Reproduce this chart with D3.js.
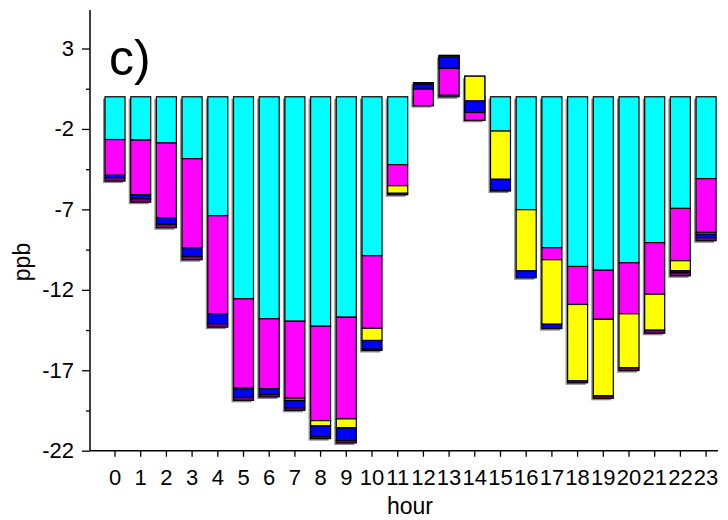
<!DOCTYPE html>
<html>
<head>
<meta charset="utf-8">
<script src="https://cdn.jsdelivr.net/npm/d3@7"></script>
<style>
  html, body { margin: 0; padding: 0; background: #fff; }
  svg { display: block; font-family: "Liberation Sans", Arial, sans-serif; }
</style>
</head>
<body>
<svg id="chart" width="728" height="520"></svg>
<script>
// ---- data (process contributions, ppb), stacked sequentially in this order ----
const hours = ["0","1","2","3","4","5","6","7","8","9","10","11","12","13","14","15","16","17","18","19","20","21","22","23"];
const cyanVals    = [-2.66,-2.69,-2.87,-3.85,-7.39,-12.56,-13.80,-13.95,-14.26,-13.70,-9.88,-4.22,-0.55,0.10,-1.46,-2.13,-7.02,-9.38,-10.55,-10.78,-10.32,-9.07,-6.94,-5.09];
const magentaVals = [-2.22,-3.40,-4.65,-5.54,-6.10,-5.54,-4.34,-4.77,-5.87,-6.32,-4.51,-1.31,1.03,1.66,2.74,0,0,-0.75,-2.36,-3.05,-3.17,-3.20,-3.25,-3.34];
const yellowVals  = [0,0,0,0,0,0,0,0,-0.33,-0.56,-0.76,-0.47,0,0.81,-1.54,-3.00,-3.80,-4.01,-4.75,-4.76,-3.36,-2.24,-0.63,-0.11];
const oliveVals   = [0,0,0,0,0,-0.05,0,-0.17,0,0,0,0,0,-0.10,0,0,0,0,0,0,0,0,0,0];
const blueVals    = [-0.15,-0.25,-0.41,-0.54,-0.62,-0.54,-0.37,-0.45,-0.67,-0.79,-0.54,0,0.31,-0.68,-0.72,-0.68,-0.43,-0.27,0,0,0,0,-0.12,-0.22];
const purpleVals  = [-0.21,-0.21,-0.21,-0.20,-0.21,-0.18,-0.15,-0.15,-0.12,-0.15,-0.08,-0.09,0.09,0,0,-0.05,0,0,-0.12,-0.15,-0.17,-0.19,-0.19,-0.19];
const yMajorTicks = [3,-2,-7,-12,-17,-22];
const yMinorTicks = [0.5,-4.5,-9.5,-14.5,-19.5];

const series = [
  {name:"cyan",    values: cyanVals,    color:"#00FFFF"},
  {name:"magenta", values: magentaVals, color:"#FF00FF"},
  {name:"yellow",  values: yellowVals,  color:"#FFFF00"},
  {name:"olive",   values: oliveVals,   color:"#808000"},
  {name:"blue",    values: blueVals,    color:"#0000FF"},
  {name:"purple",  values: purpleVals,  color:"#800080"}
];

const svg = d3.select("#chart");
const x = d3.scaleBand().domain(hours).range([102.15, 718.95]).padding(0);
const y = d3.scaleLinear().domain([-22, 5.4]).range([450.7, 9.9]);
const barW = 20;
const cx = h => x(h) + x.bandwidth() / 2;

// sequential stacking
const bars = hours.map((h, i) => {
  let cum = 0;
  const segs = [];
  let lo = 0, hi = 0;
  series.forEach(s => {
    const v = s.values[i];
    const start = cum;
    cum += v;
    lo = Math.min(lo, cum); hi = Math.max(hi, cum);
    if (v !== 0) segs.push({start, end: cum, color: s.color});
  });
  return {h, segs, lo, hi};
});

// shadows
svg.append("g").selectAll("rect").data(bars).join("rect")
  .attr("x", d => cx(d.h) - barW/2 - 2)
  .attr("y", d => y(d.hi) + 2)
  .attr("width", barW)
  .attr("height", d => y(d.lo) - y(d.hi))
  .attr("fill", "#8a8a8a");

// bars
const gBars = svg.append("g");
bars.forEach(b => {
  gBars.append("g").selectAll("rect").data(b.segs).join("rect")
    .attr("x", cx(b.h) - barW/2)
    .attr("y", d => y(Math.max(d.start, d.end)))
    .attr("width", barW)
    .attr("height", d => Math.abs(y(d.start) - y(d.end)))
    .attr("fill", d => d.color)
    .attr("stroke", "#000")
    .attr("stroke-width", 1.2);
});

const fmt = d => String(d);

// y axis
const yAxis = svg.append("g").attr("transform", "translate(90,0)");
yAxis.append("line").attr("x1",0).attr("x2",0).attr("y1", y(5.4)).attr("y2", y(-22))
  .attr("stroke","#000").attr("stroke-width",1.5);
yAxis.append("g").call(d3.axisLeft(y).tickValues(yMajorTicks).tickSize(8).tickPadding(8).tickFormat(fmt))
  .call(a => a.select(".domain").remove())
  .call(a => a.selectAll("text").attr("font-size", 22).attr("fill","#000").attr("font-family","Liberation Sans, Arial, sans-serif"))
  .call(a => a.selectAll("line").attr("stroke","#000").attr("stroke-width",1.3));
yAxis.append("g").call(d3.axisLeft(y).tickValues(yMinorTicks).tickSize(4).tickFormat(""))
  .call(a => a.select(".domain").remove())
  .call(a => a.selectAll("line").attr("stroke","#000").attr("stroke-width",1.3));

// x axis
const xAxisG = svg.append("g").attr("transform", `translate(0,${y(-22)})`);
xAxisG.append("line").attr("x1", 90).attr("x2", 718).attr("y1", 0).attr("y2", 0)
  .attr("stroke","#000").attr("stroke-width",1.5);
xAxisG.append("g").call(d3.axisBottom(x).tickSize(6).tickPadding(13))
  .call(a => a.select(".domain").remove())
  .call(a => a.selectAll("text").attr("font-size", 22).attr("fill","#000").attr("font-family","Liberation Sans, Arial, sans-serif"))
  .call(a => a.selectAll("line").attr("stroke","#000").attr("stroke-width",1.3));

// titles
svg.append("text").attr("x", 410).attr("y", 514).attr("text-anchor","middle")
  .attr("font-size", 23).text("hour");
svg.append("text").attr("transform","translate(30,262) rotate(-90)").attr("text-anchor","middle")
  .attr("font-size", 23).text("ppb");
svg.append("text").attr("x", 109).attr("y", 75).attr("font-size", 50).text("c)");
</script>
</body>
</html>
